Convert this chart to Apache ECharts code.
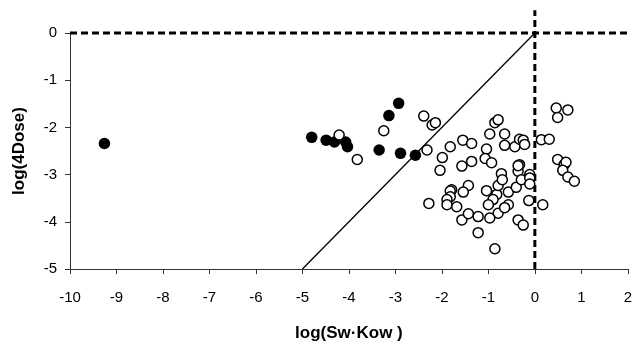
<!DOCTYPE html>
<html>
<head>
<meta charset="utf-8">
<script src="https://cdn.jsdelivr.net/npm/echarts@6/dist/echarts.min.js"></script>
<style>
  html, body { margin: 0; padding: 0; background: #fff; }
  #chart { width: 635px; height: 347px; }
</style>
</head>
<body>
<div id="chart"></div>
<script>
// Axis ranges and titles
const xRange = [-10, 2];
const yRange = [-5, 0];
const xTitle = 'log(Sw·Kow )';
const yTitle = 'log(4Dose)';

// Filled markers: [log(Sw·Kow), log(4Dose)]
const filledPoints = [
  [-9.26, -2.34],
  [-4.80, -2.21],
  [-4.49, -2.27],
  [-4.31, -2.31],
  [-4.07, -2.31],
  [-4.03, -2.41],
  [-3.35, -2.48],
  [-3.14, -1.75],
  [-2.93, -1.49],
  [-2.89, -2.55],
  [-2.57, -2.59]
];

// Open markers: [log(Sw·Kow), log(4Dose)]
const openPoints = [
  [-4.21, -2.16], [-3.82, -2.68], [-3.25, -2.07], [-2.39, -1.76],
  [-2.21, -1.95], [-2.14, -1.90], [-2.32, -2.48], [-1.82, -2.41],
  [-1.55, -2.27], [-1.36, -2.34], [-1.99, -2.64], [-2.04, -2.91],
  [-1.57, -2.82], [-1.36, -2.72], [-0.97, -2.14], [-0.86, -1.90],
  [-0.79, -1.84], [-0.65, -2.14], [-1.04, -2.46], [-1.07, -2.66],
  [-0.93, -2.75], [-0.65, -2.38], [-0.43, -2.41], [-0.33, -2.25],
  [-0.25, -2.27], [-0.22, -2.36], [-0.72, -2.98], [-0.33, -2.79],
  [-0.36, -2.93], [-0.11, -3.00], [0.14, -2.26],
  [0.31, -2.25], [0.46, -1.59], [0.71, -1.63], [0.49, -1.79],
  [0.49, -2.68], [0.63, -2.79], [0.67, -2.74], [0.60, -2.91],
  [0.71, -3.05], [0.85, -3.14], [0.17, -3.64],
  [-2.28, -3.61], [-1.79, -3.32], [-1.82, -3.35], [-1.82, -3.47],
  [-1.89, -3.53], [-1.89, -3.64], [-1.68, -3.68], [-1.57, -3.96],
  [-1.43, -3.83], [-1.22, -3.89], [-1.22, -4.23], [-0.86, -4.57],
  [-1.43, -3.23], [-1.54, -3.37], [-1.04, -3.34], [-0.82, -3.42],
  [-0.90, -3.53], [-1.00, -3.64], [-0.79, -3.82], [-0.97, -3.92],
  [-0.57, -3.64], [-0.65, -3.70], [-0.57, -3.37], [-0.79, -3.23],
  [-0.70, -3.11], [-0.40, -3.27], [-0.29, -3.11], [-0.11, -3.07],
  [-0.11, -3.20], [-0.36, -2.81], [-0.13, -3.55], [-0.36, -3.96],
  [-0.25, -4.07]
];

// Reference lines: 1:1 diagonal, y = 0 and x = 0
const diagonalLine = [[-5, -5], [0, 0]];
const zeroYLine = [[-10, 0], [2, 0]];
const zeroXLine = [[0, -5], [0, 0.48]];

const font = '"Liberation Sans", Arial, sans-serif';
const axisColor = '#333';

const chart = echarts.init(document.getElementById('chart'), null, { renderer: 'canvas' });
chart.setOption({
  animation: false,
  backgroundColor: '#fff',
  grid: { left: 70, right: 3, top: 33, bottom: 70, containLabel: false },
  xAxis: {
    type: 'value',
    min: xRange[0], max: xRange[1], interval: 1,
    name: xTitle, nameLocation: 'middle', nameGap: 56,
    nameTextStyle: { fontFamily: font, fontSize: 17, fontWeight: 'bold', color: '#000' },
    axisLine: { show: true, onZero: false, lineStyle: { color: axisColor, width: 1 } },
    axisTick: { show: true, inside: false, length: 5, lineStyle: { color: axisColor } },
    axisLabel: { fontFamily: font, fontSize: 15, color: '#000', margin: 21 },
    splitLine: { show: false }
  },
  yAxis: {
    type: 'value',
    min: yRange[0], max: yRange[1], interval: 1,
    name: yTitle, nameLocation: 'middle', nameGap: 42, nameRotate: 90,
    nameTextStyle: { fontFamily: font, fontSize: 17, fontWeight: 'bold', color: '#000' },
    axisLine: { show: true, onZero: false, lineStyle: { color: axisColor, width: 1 } },
    axisTick: { show: true, inside: false, length: 5, lineStyle: { color: axisColor } },
    axisLabel: { fontFamily: font, fontSize: 15, color: '#000', margin: 13 },
    splitLine: { show: false }
  },
  series: [
    {
      type: 'line', data: diagonalLine, symbol: 'none', silent: true,
      lineStyle: { color: '#000', width: 1.3 }, z: 2
    },
    {
      type: 'line', data: zeroYLine, symbol: 'none', silent: true, clip: false,
      lineStyle: { color: '#000', width: 3, type: [7, 4] }, z: 2
    },
    {
      type: 'line', data: zeroXLine, symbol: 'none', silent: true, clip: false,
      lineStyle: { color: '#000', width: 3, type: [7, 4] }, z: 2
    },
    {
      type: 'scatter', data: filledPoints, symbol: 'circle', symbolSize: 11.5,
      itemStyle: { color: '#000', borderColor: '#000', borderWidth: 0, opacity: 1 }, z: 3
    },
    {
      type: 'scatter', data: openPoints, symbol: 'circle', symbolSize: 10,
      itemStyle: { color: '#fff', borderColor: '#000', borderWidth: 1.5, opacity: 1 }, z: 4
    }
  ]
});
</script>
</body>
</html>
